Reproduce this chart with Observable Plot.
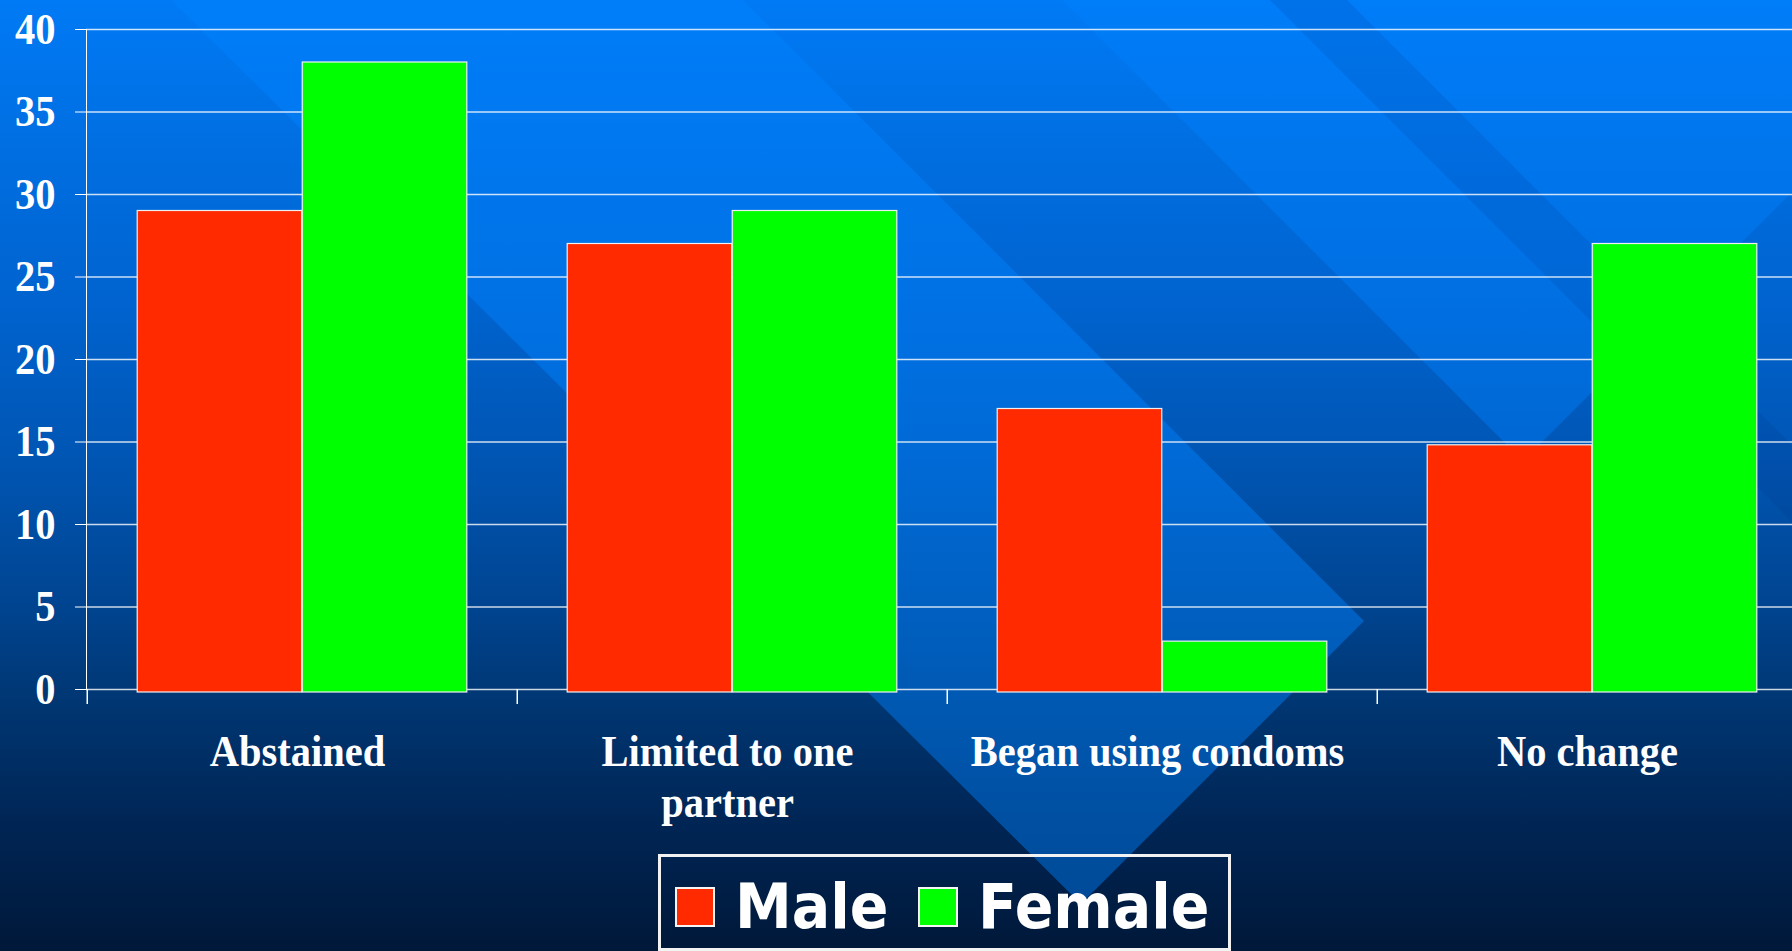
<!DOCTYPE html>
<html>
<head>
<meta charset="utf-8">
<script src="https://cdn.jsdelivr.net/npm/d3@7"></script>
<script src="https://cdn.jsdelivr.net/npm/@observablehq/plot@0.6"></script>
<style>
  html, body { margin: 0; padding: 0; overflow: hidden; background: #001535; }
  #wrap {
    position: relative; width: 1792px; height: 951px; overflow: hidden;
    background: linear-gradient(to bottom, #007af5 0%, #006fe2 15%, #0063cf 32%, #0054b0 50%, #004592 63%, #003672 74%, #002656 86%, #001839 100%);
  }
  #bg { position: absolute; left: 0; top: 0; }
  #chart { position: absolute; left: 0; top: 0; width: 1808px; }
  #chart svg { max-width: none !important; }
  #chart svg text { font-family: "Liberation Serif", "Times New Roman", serif; font-weight: bold; font-size: 44px; }
  #legend {
    position: absolute; left: 658px; top: 854px; width: 573px; height: 97px;
    box-sizing: border-box; border: 3px solid #f2f2f2; padding: 20px 0 0 14px;
  }
  #legend .row { display: flex; align-items: center; height: 59px; }
  #legend .sw { width: 36px; height: 36px; border: 2px solid #f5f5f5; flex: none; }
  #legend .lab { font-family: "DejaVu Sans", sans-serif; font-weight: bold; font-size: 62px; line-height: 59px; color: #ffffff; margin-left: 20px; white-space: nowrap; display: inline-block; transform: scaleX(0.92); transform-origin: left center; }
  #legend .sw2 { margin-left: 16px; }
</style>
</head>
<body>
<div id="wrap">
  <svg id="bg" width="1792" height="951">
    <polygon points="171,0 743,0 1364,621 1081,904" fill="rgb(0,130,255)" fill-opacity="0.45"></polygon>
    <polygon points="1062,0 1792,0 1792,192 1523,461" fill="rgb(0,130,255)" fill-opacity="0.4"></polygon>
    <polygon points="1270,0 1347,0 1792,445 1792,522" fill="rgb(0,40,120)" fill-opacity="0.12"></polygon>
  </svg>
  <div id="chart"></div>
  <div id="legend"></div>
</div>
<script>
// ---- data ----
const categories = ["Abstained", "Limited to one partner", "Began using condoms", "No change"];
const categoryLabels = ["Abstained", "Limited to one\npartner", "Began using condoms", "No change"];
const series = ["Male", "Female"];
const seriesColors = ["#ff2a00", "#00ff00"];
const male = [29, 27, 17, 14.8];
const female = [38, 29, 2.9, 27];
const yTicks = [0, 5, 10, 15, 20, 25, 30, 35, 40];

const rows = categories.flatMap((c, i) => [
  {category: c, sex: series[0], value: male[i]},
  {category: c, sex: series[1], value: female[i]}
]);

// ---- layout ----
const width = 1808, height = 850;
const marginLeft = 86, marginRight = 0, marginTop = 29, marginBottom = 161;
const W = (width - marginLeft - marginRight) / categories.length;
const plotH = height - marginTop - marginBottom;
const outer = W * 0.1166, half = W * 0.5;

const chart = Plot.plot({
  width, height, marginLeft, marginRight, marginTop, marginBottom,
  style: {background: "transparent", color: "white", overflow: "visible", maxWidth: "none"},
  x: {domain: categories, padding: 0, axis: null},
  y: {domain: [0, 40], ticks: yTicks, tickSize: 11, tickPadding: 20, tickFormat: d => String(d), label: null, line: true},
  color: {domain: series, range: seriesColors},
  marks: [
    Plot.ruleY(yTicks, {y: d => d, stroke: "white", strokeOpacity: 0.8, strokeWidth: 1.5}),
    Plot.barY(rows.filter(d => d.sex === series[0]), {x: "category", y: "value", fill: "sex", stroke: "#f0f0f0", strokeWidth: 1.2, insetLeft: outer, insetRight: half, insetBottom: -3}),
    Plot.barY(rows.filter(d => d.sex === series[1]), {x: "category", y: "value", fill: "sex", stroke: "#f0f0f0", strokeWidth: 1.2, insetLeft: half, insetRight: outer, insetBottom: -3}),
    Plot.ruleX(categories, {x: d => d, dx: -W / 2, stroke: "white", strokeWidth: 1.5, insetTop: plotH, insetBottom: -15}),
    Plot.text(categories, {x: d => d, text: (d, i) => categoryLabels[i], frameAnchor: "bottom", lineAnchor: "top", dx: -5, dy: 40, lineHeight: 1.16, fill: "white"})
  ]
});
document.getElementById("chart").appendChild(chart);

// condense the serif labels horizontally (the reference text is slightly narrow)
d3.select(chart).selectAll("text").each(function() {
  const tspans = this.querySelectorAll("tspan");
  const targets = tspans.length ? Array.from(tspans) : [this];
  targets.forEach(t => {
    const len = t.getComputedTextLength();
    if (len > 0) {
      t.setAttribute("textLength", (len * 0.92).toFixed(1));
      t.setAttribute("lengthAdjust", "spacingAndGlyphs");
    }
  });
});

// ---- legend ----
const legend = d3.select("#legend").append("div").attr("class", "row");
series.forEach((s, i) => {
  legend.append("div").attr("class", "sw" + (i ? " sw2" : "")).style("background", seriesColors[i]);
  legend.append("div").attr("class", "lab").text(s);
});
</script>
</body>
</html>
